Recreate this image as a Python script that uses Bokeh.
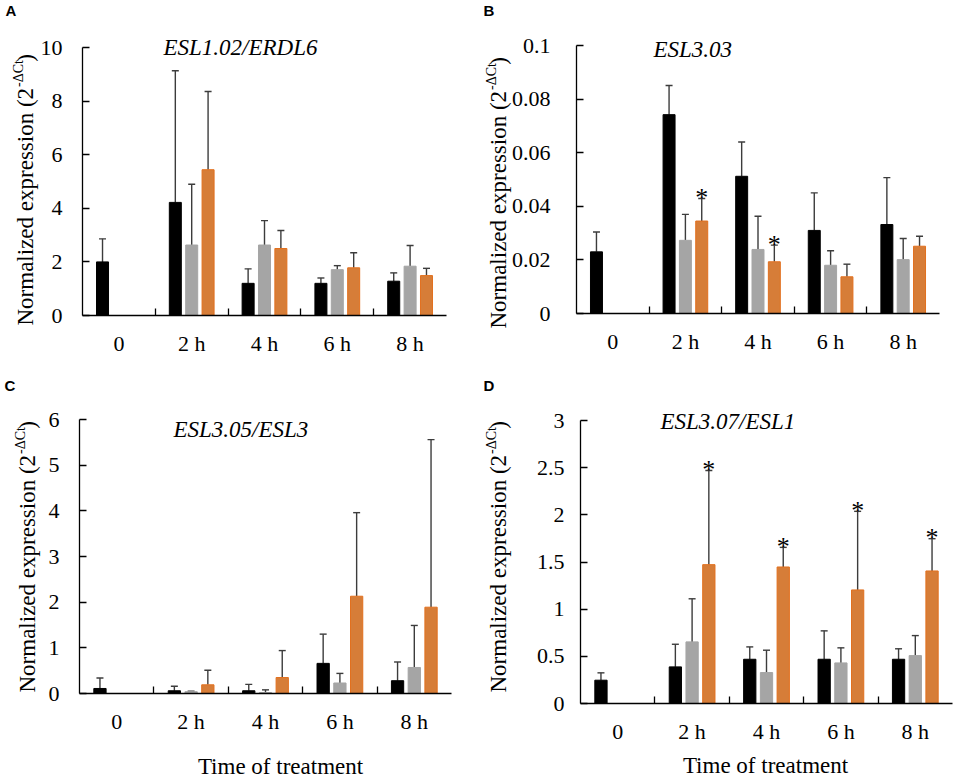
import math
from bokeh.plotting import figure
from bokeh.models import Range1d, FixedTicker, Label, Whisker, TeeHead, ColumnDataSource
from bokeh.layouts import column, row
from bokeh.core.properties import value
from bokeh.embed import file_html
from bokeh.resources import INLINE

# ---------------- data ----------------
times = ["0", "2 h", "4 h", "6 h", "8 h"]
treated_times = ["2 h", "4 h", "6 h", "8 h"]

# Panel A  ESL1.02/ERDL6
A_title = "ESL1.02/ERDL6"
A_black = [2.00, 4.22, 1.20, 1.20, 1.28]
A_black_err = [0.86, 4.91, 0.54, 0.20, 0.31]
A_gray = [2.63, 2.63, 1.71, 1.84]
A_gray_err = [2.27, 0.91, 0.15, 0.77]
A_orange = [5.44, 2.50, 1.78, 1.49]
A_orange_err = [2.92, 0.67, 0.56, 0.27]
A_orange_sig = [False, False, False, False]
A_yticks = [0, 2, 4, 6, 8, 10]
A_yticklabels = ["0", "2", "4", "6", "8", "10"]

# Panel B  ESL3.03
B_title = "ESL3.03"
B_black = [0.0230, 0.0742, 0.0512, 0.0310, 0.0332]
B_black_err = [0.0074, 0.0109, 0.0128, 0.0140, 0.0175]
B_gray = [0.0273, 0.0239, 0.0180, 0.0201]
B_gray_err = [0.0097, 0.0124, 0.0054, 0.0079]
B_orange = [0.0345, 0.0193, 0.0137, 0.0251]
B_orange_err = [0.0084, 0.0062, 0.0047, 0.0037]
B_orange_sig = [True, True, False, False]
B_yticks = [0, 0.02, 0.04, 0.06, 0.08, 0.1]
B_yticklabels = ["0", "0.02", "0.04", "0.06", "0.08", "0.1"]

# Panel C  ESL3.05/ESL3
C_title = "ESL3.05/ESL3"
C_black = [0.11, 0.06, 0.06, 0.66, 0.28]
C_black_err = [0.23, 0.10, 0.14, 0.64, 0.41]
C_gray = [0.04, 0.02, 0.23, 0.57]
C_gray_err = [0.01, 0.06, 0.21, 0.92]
C_orange = [0.19, 0.35, 2.13, 1.89]
C_orange_err = [0.32, 0.59, 1.83, 3.67]
C_orange_sig = [False, False, False, False]
C_yticks = [0, 1, 2, 3, 4, 5, 6]
C_yticklabels = ["0", "1", "2", "3", "4", "5", "6"]

# Panel D  ESL3.07/ESL1
D_title = "ESL3.07/ESL1"
D_black = [0.247, 0.388, 0.469, 0.469, 0.469]
D_black_err = [0.078, 0.240, 0.131, 0.301, 0.111]
D_gray = [0.653, 0.328, 0.430, 0.508]
D_gray_err = [0.457, 0.237, 0.160, 0.212]
D_orange = [1.472, 1.447, 1.204, 1.405]
D_orange_err = [0.998, 0.208, 0.833, 0.342]
D_orange_sig = [True, True, True, True]
D_yticks = [0, 0.5, 1, 1.5, 2, 2.5, 3]
D_yticklabels = ["0", "0.5", "1", "1.5", "2", "2.5", "3"]

x_title = "Time of treatment"

# ---------------- style ----------------
SERIF = "Liberation Serif"
BLACK = "#000000"
GRAY = "#a5a5a5"
ORANGE = "#d67d38"
ORANGE_LINE = "#e2701e"
ERR_C = "#3c3c3c"
BAR_W = 0.165
OFFSET = 0.225
MAIN_FS = 23
SUP_FS = 14
MAIN_W = 10.331 * MAIN_FS   # approx width of "Normalized expression (2"
SUP_W = 1.72 * SUP_FS       # approx width of "-ΔCt"


def add_series(p, cats, vals, errs, offset, fill, line, sig=None):
    xs = [times.index(c) + 0.5 + offset for c in cats]
    uppers = [v + e for v, e in zip(vals, errs)]
    src = ColumnDataSource(dict(x=xs, top=vals, upper=uppers))
    p.vbar(x="x", top="top", bottom=0, width=BAR_W, source=src,
           fill_color=fill, line_color=line, line_width=1)
    p.add_layout(Whisker(base="x", lower="top", upper="upper", source=src,
                         dimension="height", line_color=ERR_C, line_width=1.4,
                         lower_head=None,
                         upper_head=TeeHead(size=7, line_color=ERR_C, line_width=1.4)))
    if sig is not None and any(sig):
        sx = [x for x, s in zip(xs, sig) if s]
        sy = [u for u, s in zip(uppers, sig) if s]
        p.text(x=sx, y=sy, text=["*"] * len(sx), text_font=value(SERIF),
               text_font_size="26px", text_align="center",
               text_baseline="alphabetic", y_offset=-1, text_color="#000000")


def make_panel(letter, title, black, black_err, gray, gray_err, orange, orange_err,
               sig, yticks, yticklabels, cfg):
    W, H = cfg["w"], cfg["h"]
    L, R, T, B = cfg["frame"]
    ncat = len(times)
    ymax = yticks[-1]
    sx = (R - L) / ncat
    sy = (B - T) / ymax
    xr = Range1d(-L / sx, ncat + (W - R) / sx)
    yr = Range1d(-(H - B) / sy, ymax + T / sy)
    p = figure(width=W, height=H, output_backend="svg", toolbar_location=None,
               x_range=xr, y_range=yr, min_border=0)
    p.outline_line_color = None
    p.grid.grid_line_color = None
    p.background_fill_color = "white"
    p.border_fill_color = "white"

    add_series(p, times, black, black_err, -OFFSET, BLACK, BLACK)
    add_series(p, treated_times, gray, gray_err, 0.0, GRAY, GRAY)
    add_series(p, treated_times, orange, orange_err, OFFSET, ORANGE, ORANGE_LINE, sig)

    centers = [i + 0.5 for i in range(ncat)]
    xa = p.xaxis[0]
    xa.fixed_location = 0
    xa.bounds = (0, ncat)
    xa.ticker = FixedTicker(ticks=centers, minor_ticks=list(range(1, ncat)))
    xa.major_label_overrides = {c: t for c, t in zip(centers, times)}
    xa.major_tick_in = 0
    xa.major_tick_out = 0
    xa.minor_tick_in = 7
    xa.minor_tick_out = 0
    xa.minor_tick_line_color = "#000000"
    xa.minor_tick_line_width = 1.3
    xa.axis_line_width = 1.3
    xa.axis_line_color = "#000000"
    xa.major_label_text_font = SERIF
    xa.major_label_text_font_size = "22px"
    xa.major_label_text_color = "#000000"
    xa.major_label_standoff = 15

    ya = p.yaxis[0]
    ya.fixed_location = 0
    ya.bounds = (0, ymax)
    ya.ticker = FixedTicker(ticks=yticks)
    ya.major_label_overrides = {t: l for t, l in zip(yticks, yticklabels)}
    ya.major_tick_in = 7
    ya.major_tick_out = 0
    ya.major_tick_line_width = 1.3
    ya.minor_tick_line_color = None
    ya.axis_line_width = 1.3
    ya.axis_line_color = "#000000"
    ya.major_label_text_font = SERIF
    ya.major_label_text_font_size = "22px"
    ya.major_label_text_color = "#000000"
    ya.major_label_standoff = cfg["ystand"]

    def lab(x, y, text, **kw):
        p.add_layout(Label(x=x, y=H - y, x_units="screen", y_units="screen",
                           text=text, text_color="#000000", **kw))

    # gene title
    lab(cfg["title"][0], cfg["title"][1], title, text_font=SERIF,
        text_font_style="italic", text_font_size="23px")
    # panel letter
    lab(cfg["letter"][0], cfg["letter"][1], letter, text_font="Liberation Sans",
        text_font_style="bold", text_font_size="15px")
    # y axis label with superscript
    bx, bottom = cfg["ylab"]
    rot = math.pi / 2
    lab(bx, bottom, "Normalized expression (2", angle=rot, text_font=SERIF,
        text_font_size=f"{MAIN_FS}px", text_align="left", text_baseline="alphabetic")
    lab(bx - 7, bottom - MAIN_W - 1, "-ΔCt", angle=rot, text_font=SERIF,
        text_font_size=f"{SUP_FS}px", text_align="left", text_baseline="alphabetic")
    lab(bx, bottom - MAIN_W - SUP_W - 2, ")", angle=rot, text_font=SERIF,
        text_font_size=f"{MAIN_FS}px", text_align="left", text_baseline="alphabetic")
    if cfg.get("xlab") is not None:
        lab(cfg["xlab"][0], cfg["xlab"][1], x_title, text_font=SERIF,
            text_font_size="23px", text_align="center", text_baseline="alphabetic")
    return p


# figure-pixel layout (frame = left, right, top, bottom of the axes box)
cfgA = dict(w=476, h=376, frame=(82, 446, 47, 315), ystand=20,
            title=(163, 59), letter=(5, 18), ylab=(25, 325), xlab=None)
cfgB = dict(w=480, h=376, frame=(100, 463, 45, 313), ystand=26,
            title=(177, 61), letter=(7, 18), ylab=(22, 328), xlab=None)
cfgC = dict(w=476, h=405, frame=(79, 451, 43, 317), ystand=20,
            title=(173, 65), letter=(4, 17), ylab=(27, 316), xlab=(280, 390))
cfgD = dict(w=480, h=405, frame=(104, 476, 44, 327), ystand=16,
            title=(184, 57), letter=(7, 17), ylab=(22, 316), xlab=(289, 389))

pA = make_panel("A", A_title, A_black, A_black_err, A_gray, A_gray_err, A_orange, A_orange_err,
                A_orange_sig, A_yticks, A_yticklabels, cfgA)
pB = make_panel("B", B_title, B_black, B_black_err, B_gray, B_gray_err, B_orange, B_orange_err,
                B_orange_sig, B_yticks, B_yticklabels, cfgB)
pC = make_panel("C", C_title, C_black, C_black_err, C_gray, C_gray_err, C_orange, C_orange_err,
                C_orange_sig, C_yticks, C_yticklabels, cfgC)
pD = make_panel("D", D_title, D_black, D_black_err, D_gray, D_gray_err, D_orange, D_orange_err,
                D_orange_sig, D_yticks, D_yticklabels, cfgD)

layout = column(row(pA, pB), row(pC, pD))
open("out.html", "w").write(file_html(layout, INLINE))
